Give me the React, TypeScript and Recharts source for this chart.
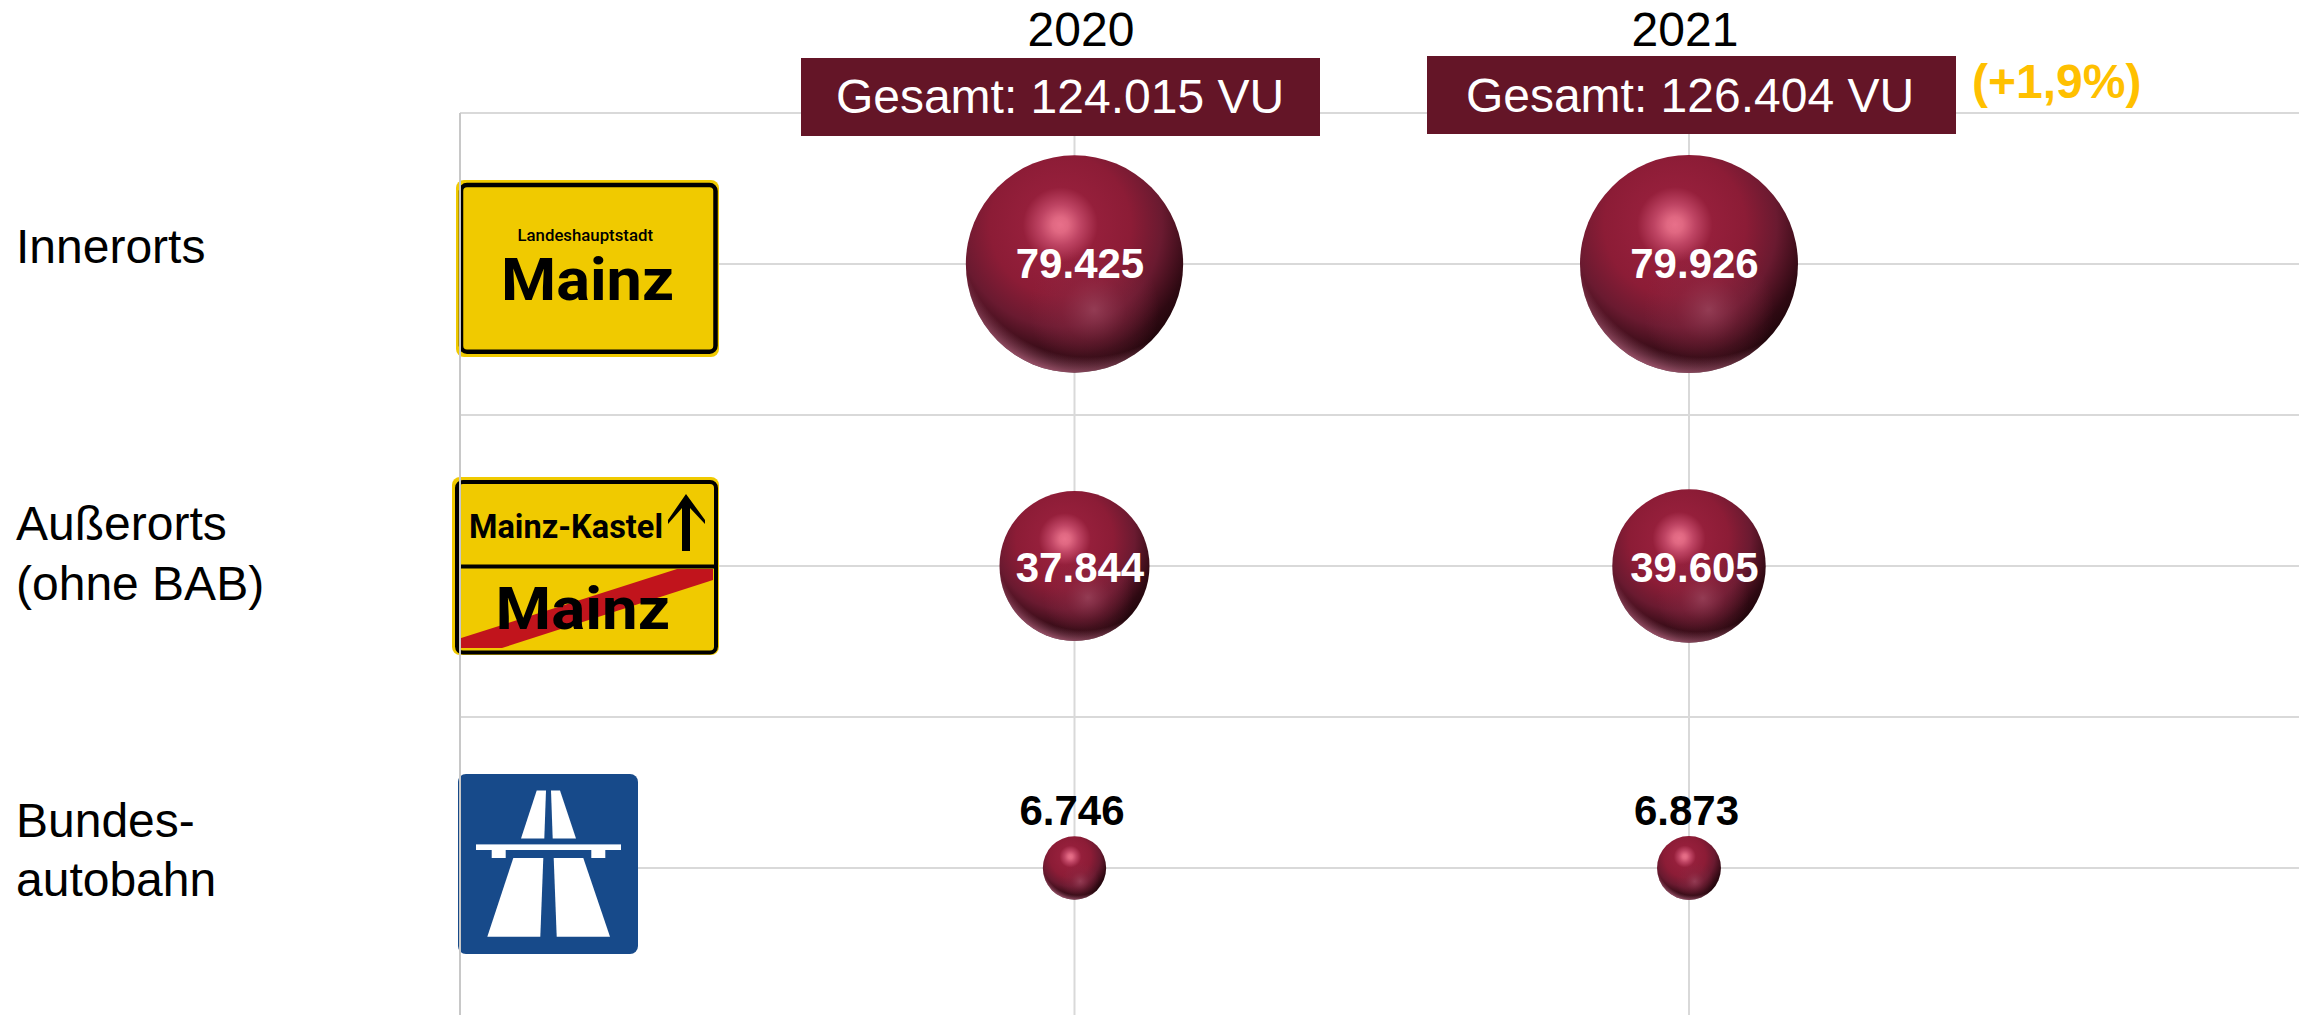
import React from "react";
import { ScatterChart, Scatter, XAxis, YAxis, ZAxis, CartesianGrid } from "recharts";

const years = [2020, 2021];
const categories = ["Innerorts", "Außerorts (ohne BAB)", "Bundesautobahn"];
const rowPositions = [5, 3, 1];
const values2020 = [79425, 37844, 6746];
const values2021 = [79926, 39605, 6873];
const totals = ["Gesamt: 124.015 VU", "Gesamt: 126.404 VU"];
const change = "(+1,9%)";
const xTicks = [2019, 2020, 2021];
const yTicks = [1, 2, 3, 4, 5, 6];
const categoryLines = [["Innerorts"], ["Außerorts", "(ohne BAB)"], ["Bundes-", "autobahn"]];

const fmt = (v: number) => String(v).replace(/(\d)(\d{3})$/, "$1.$2");
const rows = (vals: number[], year: number) =>
  vals.map((value, i) => ({ year, row: rowPositions[i], value, category: categories[i], index: i }));

const FONT = "'Liberation Sans', Arial, sans-serif";
const SIGN_FONT = "Roboto, 'Noto Sans', sans-serif";
const labelDy = [14, 16, -43];
const labelDx = [5.5, 5.5, -2.5];

function Sphere(props: any) {
  const { cx, cy, width, payload } = props;
  const r = width / 2;
  const small = payload.value < 10000;
  return (
    <g>
      <circle cx={cx} cy={cy} r={r} fill="url(#sphereBase)" />
      <circle cx={cx} cy={cy} r={r} fill="url(#sphereGlow)" />
      <circle cx={cx} cy={cy} r={r} fill="url(#sphereRim)" />
      <text
        x={cx + labelDx[payload.index]}
        y={cy + labelDy[payload.index]}
        textAnchor="middle"
        fontFamily={FONT}
        fontWeight={700}
        fontSize={42}
        fill={small ? "#000000" : "#ffffff"}
      >
        {fmt(payload.value)}
      </text>
    </g>
  );
}

function YearTick(props: any) {
  const { payload } = props;
  const i = years.indexOf(payload.value);
  if (i < 0) return <g />;
  const box =
    i === 0
      ? { x: 801, y: 58, w: 519, h: 78, tc: 1060, ty: 113, yc: 1081 }
      : { x: 1427, y: 56, w: 529, h: 78, tc: 1690, ty: 112, yc: 1685 };
  return (
    <g>
      <text x={box.yc} y={46} textAnchor="middle" fontFamily={FONT} fontSize={48} fill="#000">
        {payload.value}
      </text>
      <rect x={box.x} y={box.y} width={box.w} height={box.h} fill="#641527" />
      <text x={box.tc} y={box.ty} textAnchor="middle" fontFamily={FONT} fontSize={48} fill="#fff">
        {totals[i]}
      </text>
      {i === 1 && (
        <text x={1972} y={98} fontFamily={FONT} fontWeight={700} fontSize={48} fill="#FFC000">
          {change}
        </text>
      )}
    </g>
  );
}

const labelBaselines = [[263], [540, 600], [837, 896]];

function RowTick(props: any) {
  const { payload } = props;
  const i = rowPositions.indexOf(payload.value);
  if (i < 0) return <g />;
  return (
    <g>
      {categoryLines[i].map((line, k) => (
        <text key={k} x={16} y={labelBaselines[i][k]} fontFamily={FONT} fontSize={48} fill="#000">
          {line}
        </text>
      ))}
    </g>
  );
}

function Signs() {
  return (
    <g>
      {/* Ortstafel Mainz */}
      <rect x={456} y={180} width={263} height={177} rx={8} fill="#F0CA00" />
      <rect x={461} y={185} width={254.5} height={166.7} rx={6} fill="#F0CA00" stroke="#000" strokeWidth={4.5} />
      <text x={517.5} y={241} fontFamily={SIGN_FONT} fontWeight={500} fontSize={16} textLength={135.5} lengthAdjust="spacingAndGlyphs" fill="#000">Landeshauptstadt</text>
      <text x={501} y={300} fontFamily={SIGN_FONT} fontWeight={700} fontSize={60} textLength={173} lengthAdjust="spacingAndGlyphs" fill="#000">Mainz</text>

      {/* Ortsende */}
      <rect x={452} y={477} width={267} height={178} rx={8} fill="#F0CA00" />
      <polygon points="713,569 677,569 458,639 458,648 502,648 713,580" fill="#C1141C" />
      <rect x={457} y={482} width={259} height={170.6} rx={6} fill="none" stroke="#000" strokeWidth={4} />
      <line x1={457} x2={716} y1={566.5} y2={566.5} stroke="#000" strokeWidth={4} />
      <text x={469} y={538} fontFamily={SIGN_FONT} fontWeight={700} fontSize={34} textLength={194} lengthAdjust="spacingAndGlyphs" fill="#000">Mainz-Kastel</text>
      <polygon points="686,494 705,520 705,524 690,508 690,551 682,551 682,508 668,524 668,520" fill="#000" />
      <text x={495.5} y={629} fontFamily={SIGN_FONT} fontWeight={700} fontSize={60} textLength={174.5} lengthAdjust="spacingAndGlyphs" fill="#000">Mainz</text>

      {/* Autobahn */}
      <rect x={458} y={774} width={180} height={180} rx={8} fill="#174A8A" />
      <g fill="#fff">
        <polygon points="536.7,790.6 546,790.6 544.3,838.6 521,838.6" />
        <polygon points="551,790.6 560,790.6 576,838.6 552.7,838.6" />
        <rect x={476} y={844.4} width={145} height={5.6} />
        <rect x={491.7} y={850} width={14} height={8} />
        <rect x={591.3} y={850} width={14} height={8} />
        <polygon points="513.3,858 543.3,858 540.3,936.7 487.3,936.7" />
        <polygon points="553.7,858 583.3,858 610,936.7 556.7,936.7" />
      </g>
    </g>
  );
}

export default function App() {
  return (
    <div style={{ position: "absolute", left: 0, top: 0, width: 2299, height: 1015, background: "#fff" }}>
      <ScatterChart width={2299} height={1015} margin={{ top: 112, right: 0, bottom: 0, left: 0 }}>
        <defs>
          <radialGradient id="sphereBase" cx="0.435" cy="0.32" r="0.72">
            <stop offset="0" stopColor="#E8708A" />
            <stop offset="0.05" stopColor="#E06882" />
            <stop offset="0.13" stopColor="#BE4463" />
            <stop offset="0.24" stopColor="#951F3B" />
            <stop offset="0.45" stopColor="#8C1C36" />
            <stop offset="0.65" stopColor="#6A1A30" />
            <stop offset="0.85" stopColor="#2E0912" />
            <stop offset="1" stopColor="#180407" />
          </radialGradient>
          <radialGradient id="sphereGlow" cx="0.59" cy="0.71" r="0.3">
            <stop offset="0" stopColor="#A04A62" stopOpacity="0.7" />
            <stop offset="0.5" stopColor="#8A2A44" stopOpacity="0.35" />
            <stop offset="1" stopColor="#8A2A44" stopOpacity="0" />
          </radialGradient>
          <radialGradient id="sphereRim" cx="0.56" cy="0.34" r="0.7">
            <stop offset="0.84" stopColor="#C06A88" stopOpacity="0" />
            <stop offset="1" stopColor="#C8708E" stopOpacity="0.95" />
          </radialGradient>
        </defs>
        <CartesianGrid stroke="#D9D9D9" strokeWidth={2} syncWithTicks />
        <XAxis
          type="number"
          dataKey="year"
          orientation="top"
          domain={[2019, 2021.9927]}
          ticks={xTicks}
          interval={0}
          height={1}
          axisLine={false}
          tickLine={false}
          tick={<YearTick />}
        />
        <YAxis
          type="number"
          dataKey="row"
          domain={[0.0265, 6]}
          ticks={yTicks}
          interval={0}
          width={460}
          axisLine={{ stroke: "#C8C8C8", strokeWidth: 2 }}
          tickLine={false}
          tick={<RowTick />}
        />
        <ZAxis type="number" dataKey="value" domain={[0, 79926]} range={[0, 37325]} />
        <Scatter data={rows(values2020, years[0])} shape={<Sphere />} isAnimationActive={false} />
        <Scatter data={rows(values2021, years[1])} shape={<Sphere />} isAnimationActive={false} />
        <Signs />
      </ScatterChart>
    </div>
  );
}
